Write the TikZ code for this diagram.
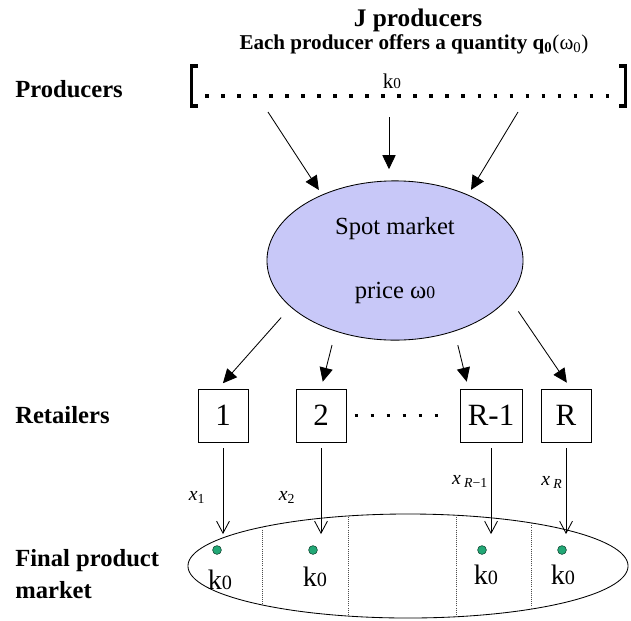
\documentclass[tikz,border=0pt]{standalone}
\usepackage{fontspec}
\setmainfont{Liberation Serif}
\usetikzlibrary{arrows.meta,positioning,shapes.geometric}
\definecolor{spotfill}{RGB}{200,200,248}
\definecolor{dotgreen}{RGB}{34,168,118}
\tikzset{
  side/.style={anchor=west, align=left, inner sep=0pt,
    font=\fontsize{17.5}{23}\selectfont\bfseries},
  head/.style={inner sep=0pt, font=\fontsize{18}{20}\selectfont\bfseries},
  subhead/.style={inner sep=0pt, font=\fontsize{15}{18}\selectfont\bfseries},
  retail/.style={draw, line width=0.7pt, minimum width=1.25cm,
    minimum height=1.325cm, inner sep=1pt, font=\fontsize{22}{24}\selectfont},
  mkt/.style={font=\fontsize{17.5}{20}\selectfont},
  kay/.style={inner sep=0pt, font=\fontsize{20}{22}\selectfont},
  firm/.style={circle, draw=black!60!dotgreen, fill=dotgreen, line width=0.4pt,
    minimum size=0.22cm, inner sep=0pt},
  xlab/.style={inner sep=0pt, font=\fontsize{14}{16}\selectfont},
  flow/.style={-{Triangle[length=3.5mm, width=3.3mm]}, line width=0.6pt},
  vflow/.style={-{Straight Barb[length=3mm, width=3.2mm]}, line width=0.6pt},
  dotrow/.style={line width=2.6pt, dash pattern=on 2.6pt off 8.8pt},
  brack/.style={line width=2.4pt, miter limit=4},
  sepline/.style={densely dotted, line width=0.5pt, black!70}
}
\newcommand{\kzero}{k\scalebox{0.72}{0}}
\newcommand{\wzero}{ω\scalebox{0.72}{0}}

\begin{document}
\begin{tikzpicture}[x=0.025cm, y=-0.025cm]
  \useasboundingbox (0,0) rectangle (631,620);

  % headers
  \node[head] (jprod) at (418,20) {J producers};
  \node[subhead] (offer) at (414,44)
    {Each producer offers a quantity q\textsubscript{0}{\mdseries(ω\textsubscript{0})}};

  % producers
  \node[side] (lprod) at (15,89) {Producers};
  \node[inner sep=0pt, font=\fontsize{15}{17}\selectfont] (kp) at (392,81) {\kzero};
  \draw[brack] (198,66) -- (191.5,66) -- (191.5,106) -- (198,106);
  \draw[brack] (619,66) -- (625.5,66) -- (625.5,106) -- (619,106);
  \draw[dotrow] (205,96) -- (617,96);
  \coordinate (p1) at (268,112);
  \coordinate (p2) at (389,117);
  \coordinate (p3) at (518,112);

  % spot market
  \node[ellipse, draw, fill=spotfill, line width=0.6pt, minimum width=6.4cm,
    minimum height=3.98cm, inner sep=0pt, mkt, align=center] (spot) at (395,260.5)
    {Spot market\\[25pt]price \wzero};
  \draw[flow, shorten >=4pt] (p1) -- (spot.138);
  \draw[flow, shorten >=8pt] (p2) -- (p2 |- spot.north);
  \draw[flow, shorten >=4pt] (p3) -- (spot.42);

  % retailers
  \node[side] (lret) at (15,415) {Retailers};
  \node[retail] (r1) at (223,415.5) {1};
  \node[retail, right=1.175cm of r1] (r2) {2};
  \node[retail, right=2.825cm of r2, minimum width=1.55cm] (r3) {R-1};
  \node[retail, right=0.45cm of r3] (r4) {R};
  \draw[dotrow] ([xshift=5.7pt]r2.east) -- ([xshift=-14.9pt]r3.west);
  \draw[flow, shorten <=10pt, shorten >=5pt] (spot.204) -- (r1.100);
  \draw[flow, shorten <=10pt, shorten >=5pt] (spot.230) -- (r2.north);
  \draw[flow, shorten <=10pt, shorten >=5pt] (spot.310) -- (r3.130);
  \draw[flow, shorten <=12pt, shorten >=5pt] (spot.342) -- (r4.80);

  % final product market
  \node[side] (lfin) at (15,574) {Final product\\market};
  \node[ellipse, draw, line width=0.6pt, minimum width=11cm, minimum height=2.6cm,
    inner sep=0pt] (fpm) at (408,566) {};
  \begin{scope}
    \clip (fpm.center) ellipse [x radius=219.5, y radius=51.5];
    \foreach \sx in {262,348,456,531}
      \draw[sepline] (\sx,500) -- (\sx,630);
  \end{scope}
  \node[firm] (d1) at (217,550) {};
  \node[firm] (d2) at (313,550) {};
  \node[firm] (d3) at (482,550) {};
  \node[firm] (d4) at (562,550) {};
  \node[kay] (k1) at (220,580) {\kzero};
  \node[kay] (k2) at (315,577) {\kzero};
  \node[kay] (k3) at (486,575) {\kzero};
  \node[kay] (k4) at (563,575) {\kzero};

  % quantities
  \draw[vflow, shorten <=4pt, shorten >=8pt] (r1.south) -- (r1.south |- d1.north);
  \draw[vflow, shorten <=4pt, shorten >=8pt] (r2.south) -- (r2.south |- d2.north);
  \draw[vflow, shorten <=4pt, shorten >=8pt] (r3.south) -- (r3.south |- d3.north);
  \draw[vflow, shorten <=4pt, shorten >=8pt] (r4.south) -- (r4.south |- d4.north);
  \node[xlab] (x1) at (197,497) {\textit{x}\textsubscript{1}};
  \node[xlab] (x2) at (287,497) {\textit{x}\textsubscript{2}};
  \node[xlab] (x3) at (470,481) {\textit{x}\,\textsubscript{\textit{R}−1}};
  \node[xlab] (x4) at (552,482) {\textit{x}\,\textsubscript{\textit{R}}};
\end{tikzpicture}
\end{document}
